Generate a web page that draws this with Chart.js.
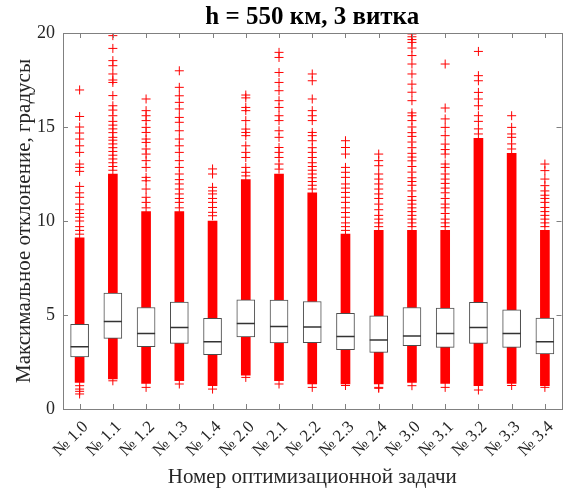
<!DOCTYPE html>
<html lang="ru">
<head>
  <meta charset="UTF-8" />
  <title>h = 550 км, 3 витка</title>
  <script src="https://cdn.jsdelivr.net/npm/chart.js"></script>
  <style>
    html, body { margin: 0; padding: 0; background: #fff; }
    #wrap { width: 572px; height: 492px; }
  </style>
</head>
<body>
  <div id="wrap"><canvas id="chart" width="572" height="492"></canvas></div>

  <script>
    const labels = ['№ 1.0', '№ 1.1', '№ 1.2', '№ 1.3', '№ 1.4', '№ 2.0', '№ 2.1', '№ 2.2',
                    '№ 2.3', '№ 2.4', '№ 3.0', '№ 3.1', '№ 3.2', '№ 3.3', '№ 3.4'];

    // quartiles and medians, degrees
    const q1  = [2.77, 3.76, 3.31, 3.49, 2.89, 3.83, 3.51, 3.53, 3.15, 3.01, 3.37, 3.28, 3.49, 3.28, 2.93];
    const med = [3.31, 4.66, 4.02, 4.34, 3.58, 4.55, 4.39, 4.36, 3.85, 3.67, 3.88, 4.02, 4.34, 4.02, 3.58];
    const q3  = [4.50, 6.17, 5.40, 5.69, 4.82, 5.81, 5.80, 5.72, 5.09, 4.95, 5.40, 5.37, 5.67, 5.28, 4.84];

    // where the outlier markers merge into a solid column
    const denseLow  = [1.42, 1.60, 1.36, 1.51, 1.24, 1.80, 1.51, 1.33, 1.33, 1.33, 1.42, 1.36, 1.24, 1.36, 1.24];
    const denseHigh = [9.1, 12.5, 10.5, 10.5, 10.0, 12.2, 12.5, 11.5, 9.3, 9.5, 9.5, 9.5, 14.4, 13.6, 9.5];

    // separate outliers above the solid column
    const upperOut = [
      [9.3, 9.5, 9.7, 10.0, 10.2, 10.4, 10.6, 10.9, 11.26, 11.5, 11.84, 12.64, 12.85, 13.03, 13.65, 14.0, 14.36, 14.68, 15.0, 15.56, 16.97],
      [12.7, 12.9, 13.1, 13.3, 13.5, 13.7, 13.9, 14.1, 14.3, 14.45, 14.7, 14.9, 15.1, 15.3, 15.6, 15.9, 16.13, 16.67, 17.37, 17.5, 17.82, 18.26, 18.53, 19.18, 19.86],
      [10.7, 10.99, 11.26, 11.7, 12.14, 12.32, 12.85, 13.21, 13.56, 13.83, 14.18, 14.36, 14.71, 14.98, 15.34, 15.6, 15.87, 16.49],
      [10.7, 10.99, 11.2, 11.44, 11.7, 11.97, 12.2, 12.5, 12.85, 13.21, 13.65, 14.0, 14.36, 14.8, 15.25, 15.51, 15.96, 16.31, 16.66, 17.11, 17.99],
      [10.28, 10.46, 10.72, 10.99, 11.2, 11.44, 11.6, 11.79, 12.5, 12.77],
      [12.4, 12.59, 12.85, 13.38, 13.65, 14.0, 14.54, 14.71, 14.89, 15.34, 15.87, 16.04, 16.55, 16.7],
      [12.76, 13.03, 13.38, 13.65, 13.91, 14.45, 14.8, 15.34, 15.6, 16.04, 16.4, 16.93, 17.37, 17.9, 18.7, 18.97],
      [11.7, 11.9, 12.1, 12.3, 12.5, 12.7, 12.9, 13.1, 13.38, 13.65, 13.9, 14.27, 14.54, 14.71, 15.34, 15.6, 15.87, 16.49, 17.46, 17.82],
      [9.5, 9.7, 9.9, 10.2, 10.45, 10.7, 10.99, 11.26, 11.52, 11.75, 11.97, 12.32, 12.59, 12.85, 13.56, 13.91, 14.27],
      [9.7, 9.9, 10.1, 10.3, 10.6, 10.9, 11.2, 11.44, 11.7, 11.97, 12.23, 12.5, 12.94, 13.21, 13.56],
      [9.7, 9.9, 10.1, 10.3, 10.5, 10.7, 10.9, 11.1, 11.3, 11.6, 11.9, 12.1, 12.3, 12.6, 12.9, 13.2, 13.4, 13.6, 13.9, 14.2, 14.5, 14.7, 15.0, 15.34, 15.6, 15.75, 16.4, 16.85, 17.28, 17.82, 18.35, 18.8, 19.2, 19.5, 19.65, 19.8, 19.95],
      [9.7, 9.9, 10.1, 10.4, 10.7, 10.9, 11.2, 11.5, 11.75, 12.0, 12.23, 12.5, 12.85, 13.03, 13.56, 13.8, 14.09, 14.54, 14.98, 15.43, 16.01, 18.35],
      [14.63, 14.9, 15.3, 15.6, 16.13, 16.49, 16.84, 17.46, 17.73, 19.02],
      [13.83, 14.1, 14.45, 14.63, 14.98, 15.6],
      [9.7, 9.9, 10.1, 10.3, 10.5, 10.72, 10.99, 11.2, 11.37, 11.6, 11.88, 12.23, 12.68, 13.03]
    ];

    // separate outliers below the solid column
    const lowerOut = [
      [1.24, 1.06, 0.94, 0.80],
      [1.50],
      [1.15],
      [1.33],
      [1.06],
      [1.68],
      [1.33],
      [1.15],
      [1.25],
      [1.15, 1.10],
      [1.24],
      [1.15],
      [1.01],
      [1.25],
      [1.15]
    ];

    const yTicks = [0, 5, 10, 15, 20];

    const RED = '#ff0000';
    const AXIS = '#808080';
    const TEXT = '#262626';
    const SERIF = '"Liberation Serif", "Times New Roman", serif';

    const outlierPts = labels.flatMap((c, i) =>
      upperOut[i].concat(lowerOut[i]).map(v => ({ x: c, y: v })));

    // ticks pointing into the plot on all four sides, plus the frame
    const innerTicks = {
      id: 'innerTicks',
      afterDatasetsDraw(chart) {
        const { ctx, chartArea: a, scales: { x, y } } = chart;
        const len = 5;
        ctx.save();
        ctx.strokeStyle = AXIS;
        ctx.lineWidth = 1;
        ctx.beginPath();
        x.ticks.forEach((t, i) => {
          const px = Math.round(x.getPixelForTick(i)) + 0.5;
          ctx.moveTo(px, a.bottom); ctx.lineTo(px, a.bottom - len);
          ctx.moveTo(px, a.top); ctx.lineTo(px, a.top + len);
        });
        y.ticks.forEach(t => {
          const py = Math.round(y.getPixelForValue(t.value)) + 0.5;
          ctx.moveTo(a.left, py); ctx.lineTo(a.left + len, py);
          ctx.moveTo(a.right, py); ctx.lineTo(a.right - len, py);
        });
        ctx.stroke();
        ctx.strokeRect(Math.round(a.left) + 0.5, Math.round(a.top) + 0.5,
                       Math.round(a.right - a.left), Math.round(a.bottom - a.top));
        ctx.restore();
      }
    };

    new Chart(document.getElementById('chart'), {
      type: 'bar',
      data: {
        labels: labels,
        datasets: [
          {
            label: 'box',
            data: labels.map((_, i) => [q1[i], q3[i]]),
            backgroundColor: '#ffffff',
            borderColor: '#4d4d4d',
            borderWidth: 1,
            borderSkipped: false,
            barThickness: 18,
            grouped: false,
            order: 1
          },
          {
            label: 'low',
            data: labels.map((_, i) => [denseLow[i], q1[i]]),
            backgroundColor: RED,
            borderWidth: 0,
            barThickness: 9,
            grouped: false,
            order: 3
          },
          {
            label: 'high',
            data: labels.map((_, i) => [q3[i], denseHigh[i]]),
            backgroundColor: RED,
            borderWidth: 0,
            barThickness: 9,
            grouped: false,
            order: 3
          },
          {
            type: 'line',
            label: 'outliers',
            data: outlierPts,
            showLine: false,
            borderColor: RED,
            backgroundColor: RED,
            pointStyle: 'cross',
            pointRadius: 4.5,
            pointBorderWidth: 1,
            pointBorderColor: RED,
            pointBackgroundColor: RED,
            pointHoverBorderColor: RED,
            pointHoverRadius: 4.5,
            order: 2
          },
          {
            type: 'line',
            label: 'median',
            data: med,
            showLine: false,
            pointStyle: 'line',
            pointRadius: 9,
            pointHoverRadius: 9,
            pointBorderWidth: 1.5,
            pointBorderColor: '#333333',
            order: 0
          }
        ]
      },
      options: {
        responsive: false,
        animation: false,
        events: [],
        layout: { padding: { left: 10, right: 6, top: 0, bottom: 0 } },
        plugins: {
          legend: { display: false },
          tooltip: { enabled: false },
          title: {
            display: true,
            text: 'h = 550 км, 3 витка',
            fullSize: false,
            color: '#000',
            font: { family: SERIF, size: 25, weight: 'bold', lineHeight: 1 },
            padding: { top: 5, bottom: 3 }
          }
        },
        scales: {
          x: {
            offset: true,
            grid: { display: false, drawTicks: false },
            border: { display: false },
            ticks: {
              color: TEXT,
              font: { family: SERIF, size: 17 },
              maxRotation: 45,
              minRotation: 45,
              padding: 8,
              labelOffset: 6,
              autoSkip: false
            },
            title: {
              display: true,
              text: 'Номер оптимизационной задачи',
              color: TEXT,
              font: { family: SERIF, size: 21 },
              padding: { top: 2, bottom: 2 }
            },
            afterFit(scale) { scale.height = 83; }
          },
          y: {
            min: 0,
            max: 20,
            afterBuildTicks(scale) { scale.ticks = yTicks.map(v => ({ value: v })); },
            grid: { display: false, drawTicks: false },
            border: { display: false },
            ticks: {
              color: TEXT,
              font: { family: SERIF, size: 18 },
              padding: 8
            },
            title: {
              display: true,
              text: 'Максимальное отклонение, градусы',
              color: TEXT,
              font: { family: SERIF, size: 21 },
              padding: { top: 2, bottom: 2 }
            },
            afterFit(scale) { scale.width = 53; }
          }
        }
      },
      plugins: [innerTicks]
    });
  </script>
</body>
</html>
